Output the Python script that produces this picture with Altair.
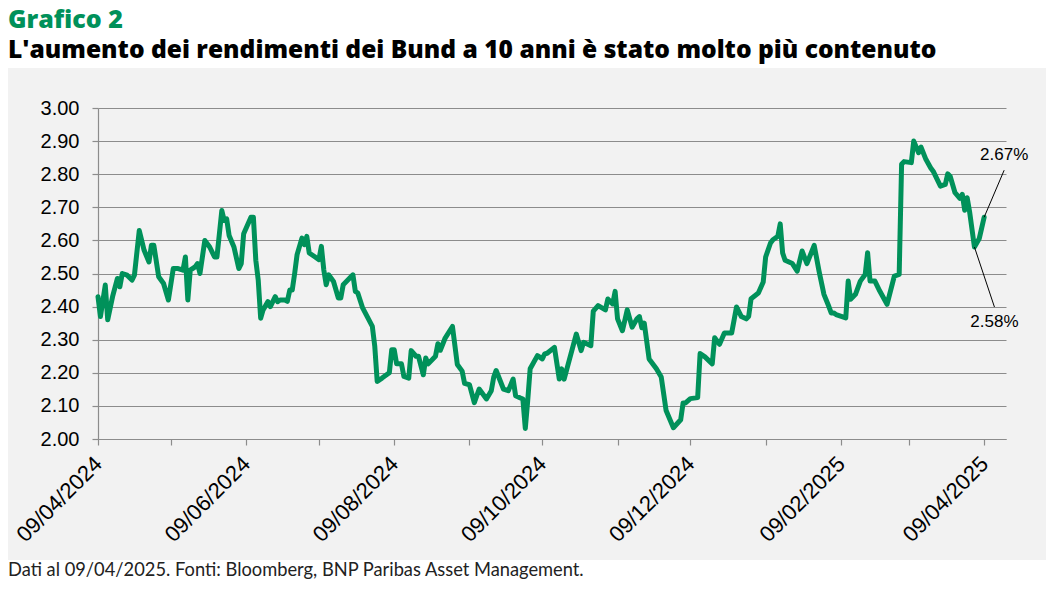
import altair as alt
import pandas as pd

title_text = "Grafico 2"
subtitle_text = "L'aumento dei rendimenti dei Bund a 10 anni è stato molto più contenuto"
footer_text = "Dati al 09/04/2025. Fonti: Bloomberg, BNP Paribas Asset Management."

dates = [
    "2024-04-09", "2024-04-10", "2024-04-12", "2024-04-13", "2024-04-15", "2024-04-17", "2024-04-18",
    "2024-04-19", "2024-04-21", "2024-04-23", "2024-04-24", "2024-04-26", "2024-04-28", "2024-04-30",
    "2024-05-01", "2024-05-02", "2024-05-04", "2024-05-06", "2024-05-08", "2024-05-10", "2024-05-12",
    "2024-05-14", "2024-05-15", "2024-05-16", "2024-05-17", "2024-05-19", "2024-05-20", "2024-05-21",
    "2024-05-23", "2024-05-25", "2024-05-27", "2024-05-28", "2024-05-30", "2024-05-31", "2024-06-01",
    "2024-06-02", "2024-06-04", "2024-06-06", "2024-06-07", "2024-06-08", "2024-06-11", "2024-06-12",
    "2024-06-13", "2024-06-14", "2024-06-15", "2024-06-16", "2024-06-18", "2024-06-19", "2024-06-21",
    "2024-06-22", "2024-06-23", "2024-06-25", "2024-06-26", "2024-06-27", "2024-06-28", "2024-06-29",
    "2024-06-30", "2024-07-02", "2024-07-03", "2024-07-04", "2024-07-05", "2024-07-07", "2024-07-09",
    "2024-07-10", "2024-07-11", "2024-07-12", "2024-07-13", "2024-07-15", "2024-07-17", "2024-07-18",
    "2024-07-19", "2024-07-21", "2024-07-23", "2024-07-24", "2024-07-25", "2024-07-27", "2024-07-31",
    "2024-08-01", "2024-08-02", "2024-08-04", "2024-08-07", "2024-08-08", "2024-08-09", "2024-08-10",
    "2024-08-12", "2024-08-13", "2024-08-15", "2024-08-16", "2024-08-18", "2024-08-19", "2024-08-21",
    "2024-08-22", "2024-08-23", "2024-08-26", "2024-08-27", "2024-08-28", "2024-08-30", "2024-09-02",
    "2024-09-04", "2024-09-06", "2024-09-07", "2024-09-09", "2024-09-11", "2024-09-13", "2024-09-16",
    "2024-09-18", "2024-09-19", "2024-09-20", "2024-09-23", "2024-09-25", "2024-09-27", "2024-09-28",
    "2024-09-30", "2024-10-01", "2024-10-02", "2024-10-03", "2024-10-04", "2024-10-07", "2024-10-09",
    "2024-10-10", "2024-10-11", "2024-10-14", "2024-10-16", "2024-10-17", "2024-10-18", "2024-10-23",
    "2024-10-25", "2024-10-26", "2024-10-29", "2024-10-30", "2024-11-01", "2024-11-04", "2024-11-05",
    "2024-11-07", "2024-11-08", "2024-11-09", "2024-11-11", "2024-11-13", "2024-11-15", "2024-11-17",
    "2024-11-18", "2024-11-19", "2024-11-20", "2024-11-22", "2024-11-25", "2024-11-27", "2024-11-29",
    "2024-12-02", "2024-12-05", "2024-12-06", "2024-12-07", "2024-12-09", "2024-12-12", "2024-12-13",
    "2024-12-15", "2024-12-18", "2024-12-19", "2024-12-21", "2024-12-23", "2024-12-26", "2024-12-28",
    "2024-12-30", "2025-01-01", "2025-01-02", "2025-01-03", "2025-01-06", "2025-01-08", "2025-01-09",
    "2025-01-11", "2025-01-12", "2025-01-14", "2025-01-15", "2025-01-16", "2025-01-17", "2025-01-20",
    "2025-01-22", "2025-01-24", "2025-01-26", "2025-01-29", "2025-01-31", "2025-02-02", "2025-02-04",
    "2025-02-05", "2025-02-06", "2025-02-07", "2025-02-11", "2025-02-12", "2025-02-13", "2025-02-15",
    "2025-02-17", "2025-02-19", "2025-02-20", "2025-02-21", "2025-02-23", "2025-02-25", "2025-02-28",
    "2025-03-03", "2025-03-05", "2025-03-06", "2025-03-07", "2025-03-10", "2025-03-11", "2025-03-13",
    "2025-03-14", "2025-03-16", "2025-03-18", "2025-03-19", "2025-03-21", "2025-03-22", "2025-03-24",
    "2025-03-25", "2025-03-26", "2025-03-28", "2025-03-30", "2025-03-31", "2025-04-01", "2025-04-02",
    "2025-04-03", "2025-04-05", "2025-04-07", "2025-04-08", "2025-04-09",
]

yields = [
    2.43, 2.37, 2.465, 2.36, 2.43, 2.485, 2.46,
    2.50, 2.495, 2.48, 2.495, 2.63, 2.57, 2.535,
    2.585, 2.585, 2.49, 2.47, 2.42, 2.515, 2.515,
    2.51, 2.55, 2.42, 2.51, 2.52, 2.53, 2.50,
    2.60, 2.58, 2.55, 2.55, 2.69, 2.66, 2.665,
    2.615, 2.58, 2.515, 2.53, 2.62, 2.67, 2.67,
    2.54, 2.48, 2.365, 2.39, 2.415, 2.40, 2.43,
    2.415, 2.42, 2.42, 2.416, 2.45, 2.45, 2.50,
    2.557, 2.607, 2.587, 2.612, 2.562, 2.552, 2.542,
    2.582, 2.511, 2.466, 2.496, 2.476, 2.426, 2.426,
    2.466, 2.481, 2.496, 2.446, 2.441, 2.396, 2.34,
    2.28, 2.174, 2.184, 2.20, 2.27, 2.27, 2.227,
    2.227, 2.189, 2.184, 2.267, 2.25, 2.25, 2.194,
    2.245, 2.227, 2.25, 2.288, 2.268, 2.305, 2.34,
    2.225, 2.205, 2.168, 2.164, 2.11, 2.151, 2.121,
    2.146, 2.187, 2.207, 2.151, 2.146, 2.181, 2.131,
    2.124, 2.121, 2.032, 2.116, 2.212, 2.252, 2.242,
    2.257, 2.259, 2.277, 2.181, 2.212, 2.181, 2.317,
    2.267, 2.292, 2.282, 2.386, 2.403, 2.39, 2.423,
    2.408, 2.446, 2.363, 2.327, 2.39, 2.338, 2.363,
    2.37, 2.336, 2.35, 2.242, 2.212, 2.187, 2.086,
    2.034, 2.058, 2.109, 2.109, 2.122, 2.125, 2.258,
    2.248, 2.227, 2.306, 2.286, 2.32, 2.32, 2.399,
    2.37, 2.363, 2.37, 2.424, 2.441, 2.474, 2.55,
    2.592, 2.602, 2.612, 2.65, 2.562, 2.54, 2.53,
    2.507, 2.568, 2.53, 2.585, 2.507, 2.437, 2.401,
    2.381, 2.381, 2.376, 2.366, 2.477, 2.422, 2.437,
    2.477, 2.497, 2.563, 2.477, 2.477, 2.447, 2.407,
    2.492, 2.497, 2.83, 2.838, 2.835, 2.90, 2.865,
    2.882, 2.845, 2.819, 2.809, 2.779, 2.764, 2.769,
    2.801, 2.794, 2.744, 2.727, 2.739, 2.691, 2.729,
    2.687, 2.58, 2.606, 2.638, 2.67,
]

y_ticks = [2.00, 2.10, 2.20, 2.30, 2.40, 2.50, 2.60, 2.70, 2.80, 2.90, 3.00]
x_tick_months = [(2024, 4), (2024, 5), (2024, 6), (2024, 7), (2024, 8), (2024, 9), (2024, 10),
                 (2024, 11), (2024, 12), (2025, 1), (2025, 2), (2025, 3), (2025, 4)]
x_start = (2024, 4, 9)
x_end = (2025, 4, 18)

GREEN = "#00915A"
PANEL = "#F2F2F2"
GRID = "#8C8C8C"

df = pd.DataFrame({"date": pd.to_datetime(dates), "value": yields})
last_pt = df.iloc[[-1]].copy()
low_pt = df.tail(6).nsmallest(1, "value").copy()
last_pt["label"] = last_pt["value"].map(lambda v: f"{v:.2f}%")
low_pt["label"] = low_pt["value"].map(lambda v: f"{v:.2f}%")

x_scale = alt.Scale(domain=[alt.DateTime(year=x_start[0], month=x_start[1], date=x_start[2]),
                            alt.DateTime(year=x_end[0], month=x_end[1], date=x_end[2])])
y_scale = alt.Scale(domain=[2.0, 3.0], nice=False, zero=False)

x_axis = alt.Axis(
    values=[alt.DateTime(year=y, month=m, date=9) for y, m in x_tick_months],
    tickCount=len(x_tick_months) + 2,
    labelExpr="month(datum.value) % 2 == 1 ? timeFormat(datum.value, '%d/%m/%Y') : ''",
    labelAngle=-45, labelAlign="right", labelBaseline="middle",
    labelFont="Liberation Sans", labelFontSize=22, labelColor="#000000", labelPadding=15,
    labelOverlap=False, labelFlush=False,
    tickColor=GRID, tickSize=6, tickWidth=1.2, domainColor=GRID, domainWidth=1.2,
    grid=False, title=None,
)
y_axis = alt.Axis(
    values=y_ticks, tickCount=len(y_ticks) + 2, format=".2f",
    labelFont="Liberation Sans", labelFontSize=20, labelColor="#000000", labelPadding=13,
    labelOverlap=False, labelFlush=False,
    tickColor=GRID, tickSize=6, tickWidth=1.2, domainColor=GRID, domainWidth=1.2,
    grid=True, gridColor=GRID, gridWidth=1.2, title=None,
)

x_enc = alt.X("date:T", scale=x_scale, axis=x_axis)
y_enc = alt.Y("value:Q", scale=y_scale, axis=y_axis)

one = pd.DataFrame({"k": [0]})

top_white = alt.Chart(one).mark_rect(color="white").encode(
    x=alt.value(-90), x2=alt.value(948), y=alt.value(-100), y2=alt.value(-40))
bottom_white = alt.Chart(one).mark_rect(color="white").encode(
    x=alt.value(-90), x2=alt.value(948), y=alt.value(452), y2=alt.value(490))

line = alt.Chart(df).mark_line(color=GREEN, strokeWidth=5, strokeJoin="round", strokeCap="round").encode(
    x=x_enc, y=y_enc,
)

rule_last = alt.Chart(last_pt).mark_rule(color="black", strokeWidth=1, x2Offset=20, y2Offset=-47).encode(
    x=x_enc, y=y_enc, x2="date:T", y2="value:Q")
rule_low = alt.Chart(low_pt).mark_rule(color="black", strokeWidth=1, x2Offset=20, y2Offset=60).encode(
    x=x_enc, y=y_enc, x2="date:T", y2="value:Q")
text_last = alt.Chart(last_pt).mark_text(font="Liberation Sans", fontSize=17, color="black",
                                         dx=20, dy=-62, align="center", baseline="middle").encode(
    x=x_enc, y=y_enc, text="label:N")
text_low = alt.Chart(low_pt).mark_text(font="Liberation Sans", fontSize=17, color="black",
                                       dx=20, dy=75, align="center", baseline="middle").encode(
    x=x_enc, y=y_enc, text="label:N")

title_mark = alt.Chart(pd.DataFrame({"t": [title_text]})).mark_text(
    font="Open Sans", fontWeight=800, fontSize=25, color=GREEN, align="left", baseline="alphabetic").encode(
    x=alt.value(-90), y=alt.value(-80), text="t:N")
subtitle_mark = alt.Chart(pd.DataFrame({"t": [subtitle_text]})).mark_text(
    font="Open Sans", fontWeight=800, fontSize=24.6, color="black", align="left", baseline="alphabetic").encode(
    x=alt.value(-90), y=alt.value(-50), text="t:N")
footer_mark = alt.Chart(pd.DataFrame({"t": [footer_text]})).mark_text(
    font="Lato", fontSize=18.3, color="#222222", align="left", baseline="alphabetic").encode(
    x=alt.value(-90), y=alt.value(468), text="t:N")

chart = alt.layer(
    top_white, bottom_white, line, rule_last, rule_low, text_last, text_low,
    title_mark, subtitle_mark, footer_mark,
).properties(
    width=908, height=331,
    autosize=alt.AutoSizeParams(type="none"),
    padding={"left": 90, "top": 100, "right": 40, "bottom": 142},
    background=PANEL,
).configure_view(stroke="transparent")

chart.save("out.html", embed_options={"renderer": "svg", "actions": False})
